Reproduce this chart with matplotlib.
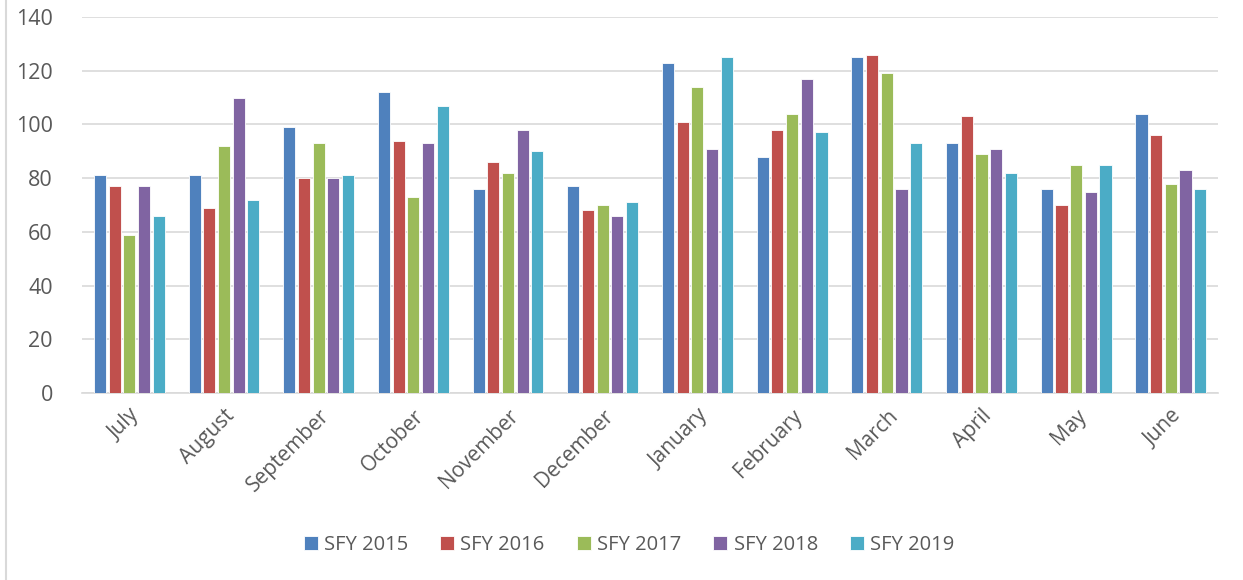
import matplotlib
matplotlib.use("Agg")
import matplotlib.pyplot as plt
import numpy as np

months = ["July", "August", "September", "October", "November", "December",
          "January", "February", "March", "April", "May", "June"]
series_names = ["SFY 2015", "SFY 2016", "SFY 2017", "SFY 2018", "SFY 2019"]
sfy2015 = [81, 81, 99, 112, 76, 77, 123, 88, 125, 93, 76, 104]
sfy2016 = [77, 69, 80, 94, 86, 68, 101, 98, 126, 103, 70, 96]
sfy2017 = [59, 92, 93, 73, 82, 70, 114, 104, 119, 89, 85, 78]
sfy2018 = [77, 110, 80, 93, 98, 66, 91, 117, 76, 91, 75, 83]
sfy2019 = [66, 72, 81, 107, 90, 71, 125, 97, 93, 82, 85, 76]
colors = ["#4f81bd", "#c0504d", "#9bbb59", "#8064a2", "#4bacc6"]

plt.rcParams['font.family'] = ['Open Sans', 'DejaVu Sans']
text_color = "#595959"

fig = plt.figure(figsize=(12.43, 5.80), dpi=100)
ax = fig.add_axes([0.066, 0.3224, 0.914, 0.6483])

x = np.arange(len(months))
step = 0.155
width = 0.128
data = [sfy2015, sfy2016, sfy2017, sfy2018, sfy2019]
for i, (vals, name, c) in enumerate(zip(data, series_names, colors)):
    ax.bar(x + (i - 2) * step, vals, width=width, color=c, label=name,
           edgecolor="white", linewidth=0.6, zorder=3)

ax.set_xlim(-0.5, len(months) - 0.5)
ax.set_ylim(0, 140)
ax.set_yticks(range(0, 141, 20))
ax.yaxis.grid(True, color="#d9d9d9", linewidth=1.2, zorder=0)
for s in ["top", "right", "left"]:
    ax.spines[s].set_visible(False)
ax.spines["bottom"].set_color("#d9d9d9")
ax.spines["bottom"].set_linewidth(1.2)
ax.tick_params(axis="both", length=0, colors=text_color)
ax.tick_params(axis="y", pad=21, labelsize=15.5)
ax.set_xticks(x)
ax.set_xticklabels(months, rotation=45, ha="right", rotation_mode="anchor")
ax.tick_params(axis="x", pad=9, labelsize=15)

fig.legend(loc="center", bbox_to_anchor=(0.506, 0.06), ncol=5, frameon=False,
           fontsize=14.5, labelcolor=text_color, handlelength=0.7,
           handleheight=0.7, handletextpad=0.3, columnspacing=1.6)

fig.add_artist(plt.Line2D([0.005, 0.005], [0, 1], color="#d9d9d9", linewidth=1.5,
                          transform=fig.transFigure))

fig.savefig("out.png", dpi=100)
